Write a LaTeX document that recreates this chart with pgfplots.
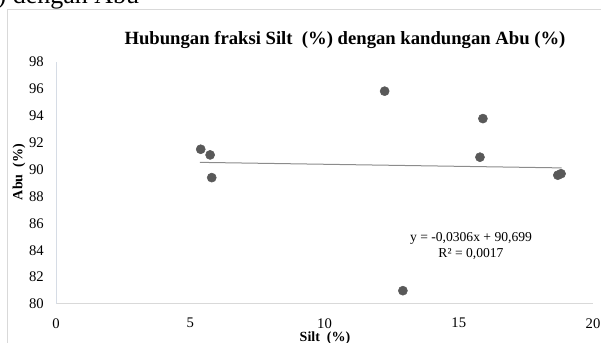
\documentclass[border=0pt]{standalone}
\usepackage{fontspec}
\setmainfont{Liberation Serif}
\usepackage{pgfplots}
\pgfplotsset{compat=1.18}
\definecolor{mk}{HTML}{595959}
\definecolor{tl}{HTML}{8C8C8C}
\definecolor{bd}{HTML}{D9D9D9}
\definecolor{yl}{HTML}{D6DCE5}
\begin{document}
\begin{tikzpicture}
\useasboundingbox (0pt,0pt) rectangle (450.75pt,257.25pt);
\draw[bd, line width=0.75pt] (5.5pt,249.75pt) rectangle (470pt,-20pt);
\node[anchor=base west, inner sep=0pt, font=\fontsize{19.5pt}{22pt}\selectfont] at (-2pt,254.6pt) {) dengan Abu};
\begin{axis}[
  at={(42pt,29.25pt)}, anchor=origin,
  scale only axis, width=402.75pt, height=181.5pt,
  xmin=0, xmax=20, ymin=80, ymax=98,
  xtick={0,5,10,15,20}, ytick={80,82,...,98},
  axis x line*=bottom, axis y line*=left,
  x axis line style={draw=bd, line width=0.75pt, -},
  y axis line style={draw=yl, line width=0.75pt, -},
  major tick length=0pt,
  /pgf/number format/assume math mode=true,
  tick label style={font=\fontsize{11pt}{13pt}\selectfont},
  yticklabel style={anchor=east, inner sep=0pt, xshift=-9pt},
  xticklabel style={anchor=north, inner sep=0pt, yshift=-10.5pt},
  clip=false,
]
\addplot[only marks, mark=*, mark size=3.4pt, mark options={fill=mk, draw=mk}] coordinates {
(5.39,91.51) (5.74,91.09) (5.80,89.40) (12.24,95.83) (15.90,93.79)
(15.79,90.92) (18.69,89.58) (18.81,89.69) (12.92,80.99)
};
\addplot[tl, line width=0.75pt, no marks] coordinates {(5.36,90.535) (18.83,90.123)};
\end{axis}
\node[anchor=base, font=\bfseries\fontsize{14pt}{16pt}\selectfont] at (258.75pt,223.5pt) {Hubungan fraksi Silt\ \ (\%) dengan kandungan Abu (\%)};
\node[rotate=90, font=\bfseries\fontsize{10.5pt}{12pt}\selectfont] at (14.25pt,128.25pt) {Abu\ \ (\%)};
\node[anchor=base, font=\bfseries\fontsize{10.5pt}{12pt}\selectfont] at (243.75pt,0.75pt) {Silt\ \ (\%)};
\node[anchor=base, font=\fontsize{10.2pt}{12pt}\selectfont] at (353.25pt,75.75pt) {y = -0,0306x\ + 90,699};
\node[anchor=base, font=\fontsize{10.2pt}{12pt}\selectfont] at (353.25pt,63.75pt) {R² = 0,0017};
\end{tikzpicture}
\end{document}
